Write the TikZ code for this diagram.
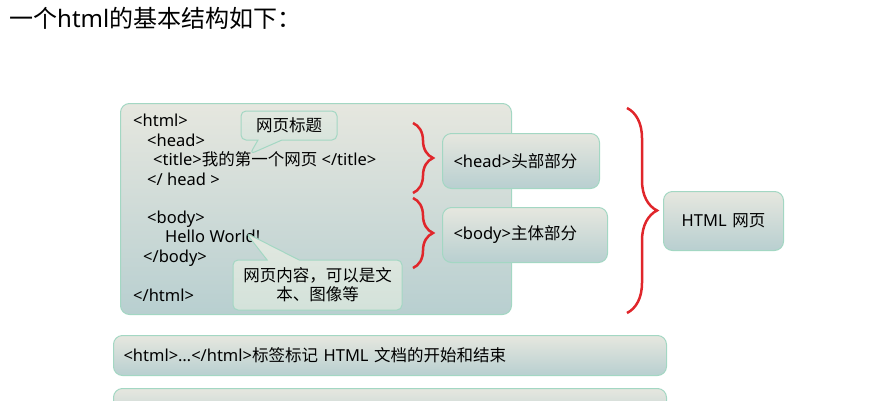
\documentclass[tikz,border=0pt]{standalone}
\usepackage{fontspec}
\setmainfont{Noto Sans}
\newfontfamily\cjk{Noto Sans CJK SC}
\usetikzlibrary{shapes.callouts,decorations.pathreplacing}

\definecolor{boxtop}{HTML}{E6E7DF}
\definecolor{boxbot}{HTML}{B8CFD0}
\definecolor{boxline}{HTML}{A3D7C3}
\definecolor{tiptop}{HTML}{E2E8E0}
\definecolor{tipbot}{HTML}{D3E2DA}
\definecolor{bracered}{HTML}{E0262B}

\tikzset{
  panel/.style={draw=boxline, line width=1pt, rounded corners=9pt, top color=boxtop, bottom color=boxbot, anchor=north west, inner sep=0pt},
  code/.style={anchor=base west, inner sep=0pt, font=\fontsize{16.5}{19}\selectfont},
  tag/.style={panel, align=left, inner xsep=11pt, font=\fontsize{16.5}{19}\selectfont},
  tip/.style={rectangle callout, draw=boxline, line width=1pt, rounded corners=5pt, top color=tiptop, bottom color=tipbot, inner sep=0pt, align=center, font=\fontsize{16.5}{19}\selectfont},
  curly/.style={draw=bracered, line width=2.5pt, decorate, decoration={brace, amplitude=#1}}
}

\begin{document}
\begin{tikzpicture}[x=1pt,y=-1pt]
\useasboundingbox (0,0) rectangle (871,400);
\clip (0,0) rectangle (871,400);

\node[anchor=base west, inner sep=0pt, font=\fontsize{24}{27}\selectfont] (title) at (9,27) {{\cjk 一个}html{\cjk 的基本结构如下：}};

%the page with its code
\node[panel, minimum width=391pt, minimum height=211pt] (page) at (120,103) {};
\node[code] (l1) at (133,126.5) {<html>};
\node[code] (l2) at (147,146) {<head>};
\node[code] (l3) at (153,165.5) {<title>{\cjk 我的第一个网页} </title>};
\node[code] (l4) at (147,185) {</ head >};
\node[code] (l5) at (147,223) {<body>};
\node[code] (l6) at (165,242.5) {Hello World!};
\node[code] (l7) at (143,262) {</body>};
\node[code] (l8) at (133,301) {</html>};

\node[tip, minimum width=96pt, minimum height=29pt, callout absolute pointer={(250,154)}, callout pointer width=24pt] (pagetitle) at (289,125.5) {\cjk 网页标题};
\node[tip, minimum width=169pt, minimum height=50pt, callout absolute pointer={(246,233)}, callout pointer width=32pt] (pagebody) at (317.5,285) {\cjk 网页内容，可以是文\\\cjk 本、图像等};

%braces
\draw[curly=20pt] (413,123) -- (413,193);
\draw[curly=20pt] (413,198) -- (413,268);
\draw[curly=30pt] (627,108) -- (627,313);

\node[tag, text width=135pt, minimum height=55pt] (head) at (442,133) {<head>{\cjk 头部部分}};
\node[tag, text width=143pt, minimum height=55pt] (body) at (442,207) {<body>{\cjk 主体部分}};
\node[tag, align=center, text width=98pt, minimum height=59pt] (web) at (663,191) {HTML {\cjk 网页}};

\node[tag, inner xsep=10pt, text width=533pt, minimum height=40pt] (note1) at (113,335) {<html>…</html>{\cjk 标签标记} HTML {\cjk 文档的开始和结束}};
\node[tag, minimum width=553pt, minimum height=40pt] (note2) at (113,388) {};

\end{tikzpicture}
\end{document}
